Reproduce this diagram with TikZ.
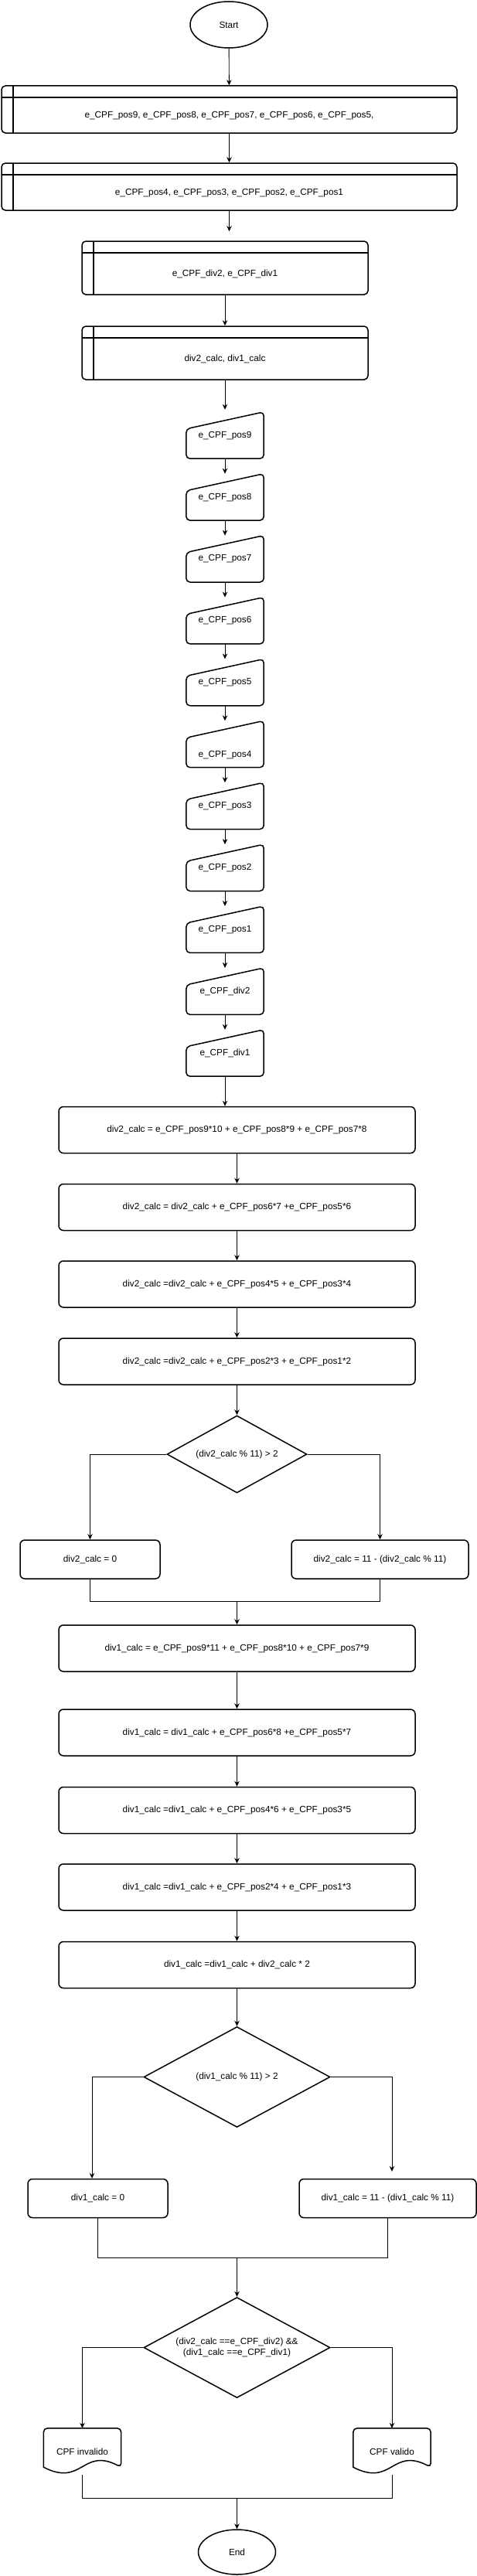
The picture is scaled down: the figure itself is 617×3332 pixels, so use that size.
\documentclass[tikz,border=0pt]{standalone}
\usepackage{fontspec}
\setmainfont{Liberation Sans}
\usetikzlibrary{shapes.geometric,arrows.meta,calc}

\begin{document}
\begin{tikzpicture}[x=1pt,y=-1pt,>={Stealth[length=7pt,width=6.5pt]},
    font=\fontsize{11.8}{14}\selectfont,
    shp/.style={line width=1.5pt},
    conn/.style={line width=0.9pt},
    arr/.style={conn,->},
    term/.style={ellipse,draw,shp,minimum width=100pt,minimum height=60pt,inner sep=0pt},
    store/.style={draw,shp,rounded corners=5pt,inner sep=0pt,text height=25pt,text depth=2.5pt,
        path picture={\draw[shp] ([yshift=-15pt]path picture bounding box.north west) -- ([yshift=-15pt]path picture bounding box.north east)
            ([xshift=15pt]path picture bounding box.north west) -- ([xshift=15pt]path picture bounding box.south west);}},
    proc/.style={draw,shp,rounded corners=6pt,minimum width=461pt,minimum height=60pt,inner sep=0pt},
    small/.style={draw,shp,rounded corners=6pt,minimum height=50pt,inner sep=0pt},
    decis/.style={diamond,draw,shp,aspect=1.85,inner sep=0pt,align=center},
    manin/.style={minimum width=100pt,minimum height=60pt,inner sep=0pt,text depth=2.4pt},
    docu/.style={minimum width=100pt,minimum height=60pt,inner sep=0pt}]
    \fill[white] (0,0) rectangle (617,3332);
    \useasboundingbox (0,0) rectangle (617,3332);

    % start and declarations
    \node[term] (start) at (296,32) {Start};
    \node[store,minimum width=589pt,minimum height=61pt] (b1) at (296.5,141.5) {e\_CPF\_pos9, e\_CPF\_pos8, e\_CPF\_pos7, e\_CPF\_pos6, e\_CPF\_pos5,};
    \node[store,minimum width=589pt,minimum height=61pt] (b2) at (296.5,241.5) {e\_CPF\_pos4, e\_CPF\_pos3, e\_CPF\_pos2, e\_CPF\_pos1};
    \node[store,minimum width=370pt,minimum height=69pt] (b3) at (291,346.5) {e\_CPF\_div2, e\_CPF\_div1};
    \node[store,minimum width=370pt,minimum height=69pt] (b4) at (291,456.5) {div2\_calc, div1\_calc};
    \draw[arr] (start) -- (b1);
    \draw[arr] (b1) -- (b2);
    \draw[arr] (b2.south) -- ([yshift=12pt]b2.south |- b3.north);
    \draw[arr] (b3) -- (b4);

    % manual inputs
    \foreach \lab/\th [count=\i] in {pos9/8.6pt,pos8/8.6pt,pos7/8.6pt,pos6/8.6pt,pos5/8.6pt,pos4/36.6pt,pos3/8.6pt,pos2/8.6pt,pos1/8.6pt,div2/8.6pt,div1/8.6pt}{
        \node[manin,text height=\th] (m\i) at (291,{563+79.9*(\i-1)}) {e\_CPF\_\lab};
        \draw[shp,rounded corners=5pt] (m\i.south west) -- ([yshift=-22pt]m\i.north west) -- (m\i.north east) -- (m\i.south east) -- cycle;
    }
    \draw[arr] (b4.south) -- ([yshift=3pt]m1.north);
    \foreach \i in {1,...,10}{
        \pgfmathtruncatemacro\j{\i+1}
        \draw[arr] (m\i.south) -- (m\j.north);
    }

    % first check digit
    \node[proc] (c1) at (306.5,1461.5) {div2\_calc = e\_CPF\_pos9*10 + e\_CPF\_pos8*9 + e\_CPF\_pos7*8};
    \node[proc] (c2) at (306.5,1561.5) {div2\_calc = div2\_calc + e\_CPF\_pos6*7 +e\_CPF\_pos5*6};
    \node[proc] (c3) at (306.5,1661) {div2\_calc =div2\_calc + e\_CPF\_pos4*5 + e\_CPF\_pos3*4};
    \node[proc] (c4) at (306.5,1761) {div2\_calc =div2\_calc + e\_CPF\_pos2*3 + e\_CPF\_pos1*2};
    \node[decis,minimum width=181pt,minimum height=100pt] (d1) at (306.5,1881) {(div2\_calc \% 11) > 2};
    \node[small,minimum width=181pt] (l1) at (116.5,2017) {div2\_calc = 0};
    \node[small,minimum width=229pt] (r1) at (491.5,2017) {div2\_calc = 11 - (div2\_calc \% 11)};
    \coordinate (j1) at (306.5,2071);
    \draw[arr] (m11.south) -- (m11.south |- c1.north);
    \draw[arr] (c1) -- (c2);
    \draw[arr] (c2) -- (c3);
    \draw[arr] (c3) -- (c4);
    \draw[arr] (c4) -- (d1);
    \draw[arr] (d1.west) -| (l1.north);
    \draw[arr] (d1.east) -| (r1.north);
    \draw[conn] (l1.south) |- (j1) -| (r1.south);

    % second check digit
    \node[proc] (c5) at (306.5,2132) {div1\_calc = e\_CPF\_pos9*11 + e\_CPF\_pos8*10 + e\_CPF\_pos7*9};
    \node[proc] (c6) at (306.5,2241) {div1\_calc = div1\_calc + e\_CPF\_pos6*8 +e\_CPF\_pos5*7};
    \node[proc] (c7) at (306.5,2341.5) {div1\_calc =div1\_calc + e\_CPF\_pos4*6 + e\_CPF\_pos3*5};
    \node[proc] (c8) at (306.5,2441) {div1\_calc =div1\_calc + e\_CPF\_pos2*4 + e\_CPF\_pos1*3};
    \node[proc] (c9) at (306.5,2541.5) {div1\_calc =div1\_calc + div2\_calc * 2};
    \node[decis,minimum width=241pt,minimum height=130pt] (d2) at (306.5,2686.5) {(div1\_calc \% 11) > 2};
    \node[small,minimum width=181pt] (l2) at (126.5,2843.5) {div1\_calc = 0};
    \node[small,minimum width=229pt] (r2) at (501.5,2843.5) {div1\_calc = 11 - (div1\_calc \% 11)};
    \coordinate (j2) at (306.5,2920);
    \draw[arr] (j1) -- (c5.north);
    \draw[arr] (c5) -- (c6);
    \draw[arr] (c6) -- (c7);
    \draw[arr] (c7) -- (c8);
    \draw[arr] (c8) -- (c9);
    \draw[arr] (c9) -- (d2);
    \draw[arr] (d2.west) -| ([xshift=-7.5pt]l2.north);
    \draw[arr] (d2.east) -| ([xshift=5.5pt,yshift=9pt]r2.north);
    \draw[conn] (l2.south) |- (j2) -| (r2.south);

    % result
    \node[decis,minimum width=241pt,minimum height=130pt] (d3) at (306.5,3036.5) {(div2\_calc ==e\_CPF\_div2) \&\&\\(div1\_calc ==e\_CPF\_div1)};
    \node[docu] (dl) at (106.5,3171) {CPF invalido};
    \node[docu] (dr) at (507,3171) {CPF valido};
    \foreach \d in {dl,dr}{
        \draw[shp] ($(\d.south east)+(0,-10)$) .. controls ($(\d.south)+(0,-36)$) and ($(\d.south)+(0,16)$) .. ($(\d.south west)+(0,-10)$)
            [rounded corners=5pt] -- (\d.north west) -- (\d.north east) -- cycle;
    }
    \coordinate (j3) at (306.5,3231);
    \node[term,minimum height=58pt] (stop) at (306.5,3301) {End};
    \draw[arr] (j2) -- (d3.north);
    \draw[arr] (d3.west) -| (dl.north);
    \draw[arr] (d3.east) -| (dr.north);
    \draw[conn] (dl.south) |- (j3) -| (dr.south);
    \draw[arr] (j3) -- (stop.north);
\end{tikzpicture}
\end{document}
